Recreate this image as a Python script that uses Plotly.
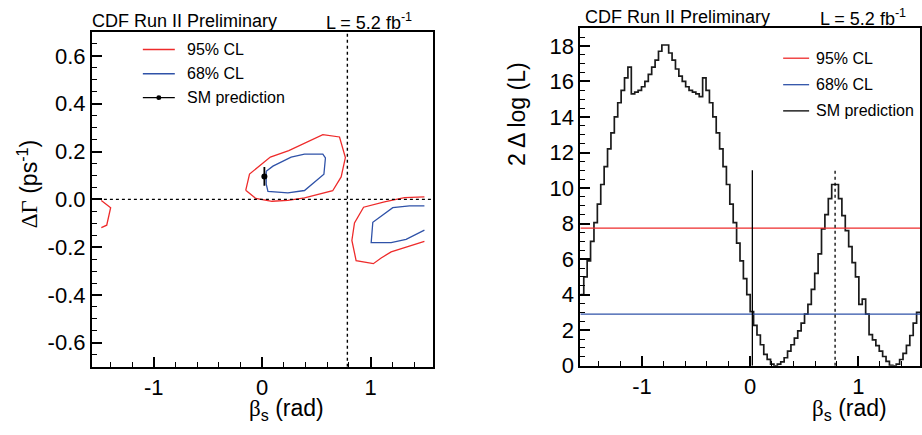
import numpy as np
import plotly.graph_objects as go

W, H = 922, 435
HALF_PI = np.pi / 2
N_BINS = 100

# ---------------- data ----------------
# Right panel: 2*Delta log(L) profile in bins of beta_s over [-pi/2, pi/2]
dll_values = [
    4.0, 5.0, 5.9, 7.0, 8.05, 9.1, 10.2, 11.2, 12.2, 13.1,
    14.0, 14.8, 15.5, 16.2, 16.8, 15.3, 15.4, 15.5, 15.7, 16.0,
    16.4, 16.8, 17.2, 17.7, 18.05, 18.05, 17.6, 17.2, 16.7, 16.3,
    16.0, 15.7, 15.5, 15.4, 15.3, 15.15, 16.2, 15.5, 14.8, 14.0,
    13.1, 12.2, 11.2, 10.2, 9.1, 8.05, 6.9, 5.9, 4.9, 4.0,
    3.05, 2.27, 1.73, 1.18, 0.64, 0.36, 0.09, 0.0, 0.09, 0.22,
    0.45, 0.82, 1.18, 1.55, 1.96, 2.4, 2.9, 3.45, 4.3, 5.2,
    6.3, 7.7, 8.5, 9.4, 10.2, 10.2, 9.4, 8.45, 7.6, 6.7,
    5.8, 5.0, 3.45, 3.75, 2.9, 1.75, 1.45, 1.13, 0.82, 0.52,
    0.25, 0.02, 0.0, 0.09, 0.35, 0.7, 1.15, 1.7, 2.4, 3.0,
]
cl95_level = 7.74
cl68_level = 2.90
sm_beta = 0.02
sm_line_top = 11.0
mirror_beta = np.pi / 4

# Left panel contours (beta_s, DeltaGamma)
c95_main_x = [-0.152, -0.117, 0.075, 0.245, 0.559, 0.713, 0.767, 0.728, 0.650, 0.390, 0.237, 0.090, -0.060, -0.152]
c95_main_y = [0.038, 0.106, 0.177, 0.204, 0.271, 0.261, 0.175, 0.094, 0.036, 0.006, -0.004, -0.008, 0.004, 0.038]
c68_main_x = [0.037, 0.099, 0.267, 0.390, 0.559, 0.583, 0.569, 0.390, 0.237, 0.053, 0.037, 0.037]
c68_main_y = [0.118, 0.139, 0.177, 0.189, 0.189, 0.173, 0.105, 0.037, 0.027, 0.033, 0.064, 0.118]
c95_left_x = [-1.484, -1.398, -1.434, -1.484]
c95_left_y = [-0.005, -0.035, -0.108, -0.118]
c95_right_x = [1.496, 1.312, 1.127, 0.935, 0.851, 0.827, 0.866, 1.025, 1.097, 1.189, 1.496]
c95_right_y = [0.010, 0.007, -0.011, -0.033, -0.099, -0.172, -0.256, -0.269, -0.245, -0.220, -0.176]
c68_right_x = [1.496, 1.358, 1.204, 1.020, 1.005, 1.189, 1.327, 1.496]
c68_right_y = [-0.027, -0.027, -0.035, -0.096, -0.181, -0.181, -0.167, -0.129]
sm_dgamma = 0.096
sm_dgamma_err = 0.039

# tick labels
x_tickvals = [-1, 0, 1]
x_ticktext = ["-1", "0", "1"]
yl_tickvals = [0.6, 0.4, 0.2, 0.0, -0.2, -0.4, -0.6]
yl_ticktext = ["0.6", "0.4", "0.2", "0.0", "-0.2", "-0.4", "-0.6"]
yr_tickvals = [0, 2, 4, 6, 8, 10, 12, 14, 16, 18]
yr_ticktext = [str(v) for v in yr_tickvals]

RED = "#ee2b2b"
BLUE = "#2f52a8"
FONT = "Liberation Sans"
SERIF = "Liberation Serif"


def px(x):
    return x / W


def py(y):
    return 1 - y / H


fig = go.Figure()

# ---------------- left panel ----------------
contour_sets = [
    (c95_main_x, c95_main_y, RED),
    (c95_left_x, c95_left_y, RED),
    (c95_right_x, c95_right_y, RED),
    (c68_main_x, c68_main_y, BLUE),
    (c68_right_x, c68_right_y, BLUE),
]
for cx, cy, col in contour_sets:
    fig.add_trace(go.Scatter(x=cx, y=cy, mode="lines", line=dict(color=col, width=1.3),
                             xaxis="x", yaxis="y", showlegend=False, hoverinfo="skip"))

# dotted reference lines
fig.add_trace(go.Scatter(x=[-HALF_PI, HALF_PI], y=[0, 0], mode="lines",
                         line=dict(color="black", width=1.4, dash="dot"),
                         xaxis="x", yaxis="y", showlegend=False, hoverinfo="skip"))
fig.add_trace(go.Scatter(x=[mirror_beta, mirror_beta], y=[-0.7, 0.7], mode="lines",
                         line=dict(color="black", width=1.4, dash="dot"),
                         xaxis="x", yaxis="y", showlegend=False, hoverinfo="skip"))

# SM prediction
fig.add_trace(go.Scatter(x=[sm_beta], y=[sm_dgamma], mode="markers",
                         marker=dict(color="black", size=6),
                         error_y=dict(type="constant", value=sm_dgamma_err, color="black",
                                      thickness=1.8, width=0),
                         xaxis="x", yaxis="y", showlegend=False, hoverinfo="skip"))

# ---------------- right panel ----------------
edges = np.linspace(-HALF_PI, HALF_PI, N_BINS + 1)
step_y = list(dll_values) + [dll_values[-1]]
fig.add_trace(go.Scatter(x=edges, y=step_y, mode="lines", line=dict(color="#1a1a1a", width=1.7, shape="hv"),
                         xaxis="x2", yaxis="y2", showlegend=False, hoverinfo="skip"))
fig.add_trace(go.Scatter(x=[-HALF_PI, HALF_PI], y=[cl95_level, cl95_level], mode="lines",
                         line=dict(color=RED, width=1.3),
                         xaxis="x2", yaxis="y2", showlegend=False, hoverinfo="skip"))
fig.add_trace(go.Scatter(x=[-HALF_PI, HALF_PI], y=[cl68_level, cl68_level], mode="lines",
                         line=dict(color=BLUE, width=1.3),
                         xaxis="x2", yaxis="y2", showlegend=False, hoverinfo="skip"))
fig.add_trace(go.Scatter(x=[sm_beta, sm_beta], y=[0, sm_line_top], mode="lines",
                         line=dict(color="black", width=1.3),
                         xaxis="x2", yaxis="y2", showlegend=False, hoverinfo="skip"))
fig.add_trace(go.Scatter(x=[mirror_beta, mirror_beta], y=[0, sm_line_top], mode="lines",
                         line=dict(color="black", width=1.3, dash="dot"),
                         xaxis="x2", yaxis="y2", showlegend=False, hoverinfo="skip"))

# ---------------- axes ----------------
axis_common = dict(showline=True, linewidth=2, linecolor="black", mirror=True,
                   ticks="inside", ticklen=10, tickwidth=1.5, tickcolor="black",
                   showgrid=False, zeroline=False,
                   tickfont=dict(family=FONT, size=22, color="black"))

fig.update_layout(
    width=W, height=H, autosize=False,
    margin=dict(l=0, r=0, t=0, b=0, pad=0),
    paper_bgcolor="white", plot_bgcolor="white",
    font=dict(family=FONT, color="black"),
    xaxis=dict(domain=[px(92), px(433)], range=[-HALF_PI, HALF_PI], anchor="y",
               tickmode="array", tickvals=x_tickvals, ticktext=x_ticktext,
               minor=dict(ticks="inside", ticklen=5, tickwidth=1.2, tickcolor="black", dtick=0.2, tick0=0),
               **axis_common),
    yaxis=dict(domain=[py(378), py(33)], range=[-0.7, 0.7], anchor="x",
               tickmode="array", tickvals=yl_tickvals, ticktext=yl_ticktext,
               minor=dict(ticks="inside", ticklen=5, tickwidth=1.2, tickcolor="black", dtick=0.05, tick0=0),
               **axis_common),
    xaxis2=dict(domain=[px(581), px(921)], range=[-HALF_PI, HALF_PI], anchor="y2",
                tickmode="array", tickvals=x_tickvals, ticktext=x_ticktext,
                minor=dict(ticks="inside", ticklen=5, tickwidth=1.2, tickcolor="black", dtick=0.2, tick0=0),
                **axis_common),
    yaxis2=dict(domain=[py(377), py(29)], range=[0, 19], anchor="x2",
                tickmode="array", tickvals=yr_tickvals, ticktext=yr_ticktext,
                minor=dict(ticks="inside", ticklen=5, tickwidth=1.2, tickcolor="black", dtick=0.5, tick0=0),
                **axis_common),
)

annotations = []
shapes = []


def text(x, y, s, size, xanchor="left", yanchor="middle", angle=0):
    annotations.append(dict(x=px(x), y=py(y), xref="paper", yref="paper", text=s, showarrow=False,
                            xanchor=xanchor, yanchor=yanchor, textangle=angle,
                            font=dict(family=FONT, size=size, color="black")))


# headers
text(90, 22, "CDF Run II Preliminary", 18)
text(324, 22, "L = 5.2 fb<sup>-1</sup>", 18)
text(584, 18, "CDF Run II Preliminary", 18)
text(819, 18, "L = 5.2 fb<sup>-1</sup>", 18)

# axis titles
text(287, 422, f"<span style='font-family:{SERIF}'>β</span><sub>s</sub> (rad)", 23, xanchor="center")
text(890, 422, f"<span style='font-family:{SERIF}'>β</span><sub>s</sub> (rad)", 23, xanchor="right")
text(28, 190, f"<span style='font-family:{SERIF}'>ΔΓ</span> (ps<sup>-1</sup>)", 23, xanchor="center", angle=-90)
text(517, 117, "2 Δ log (L)", 23, xanchor="center", angle=-90)

# left legend
for yy, col, lab in [(51, RED, "95% CL"), (76, BLUE, "68% CL"), (100.7, "black", "SM prediction")]:
    shapes.append(dict(type="line", xref="paper", yref="paper", x0=px(143), x1=px(175), y0=py(yy), y1=py(yy),
                       line=dict(color=col, width=1.3)))
    text(185, yy, lab, 16)
shapes.append(dict(type="circle", xref="paper", yref="paper", x0=px(156.5), x1=px(161.5), y0=py(103.2), y1=py(98.2),
                   fillcolor="black", line=dict(color="black", width=0)))

# right legend
for yy, col, lab in [(60, RED, "95% CL"), (87.3, BLUE, "68% CL"), (114.3, "black", "SM prediction")]:
    shapes.append(dict(type="line", xref="paper", yref="paper", x0=px(784), x1=px(810), y0=py(yy), y1=py(yy),
                       line=dict(color=col, width=1.3)))
    text(815, yy, lab, 16)

fig.update_layout(annotations=annotations, shapes=shapes)

fig.write_html(
    "out.html",
    config={"displayModeBar": False},
    post_script="document.body.style.margin='0';document.body.style.padding='0';"
                "document.body.style.overflow='hidden';document.documentElement.style.overflow='hidden';",
)
